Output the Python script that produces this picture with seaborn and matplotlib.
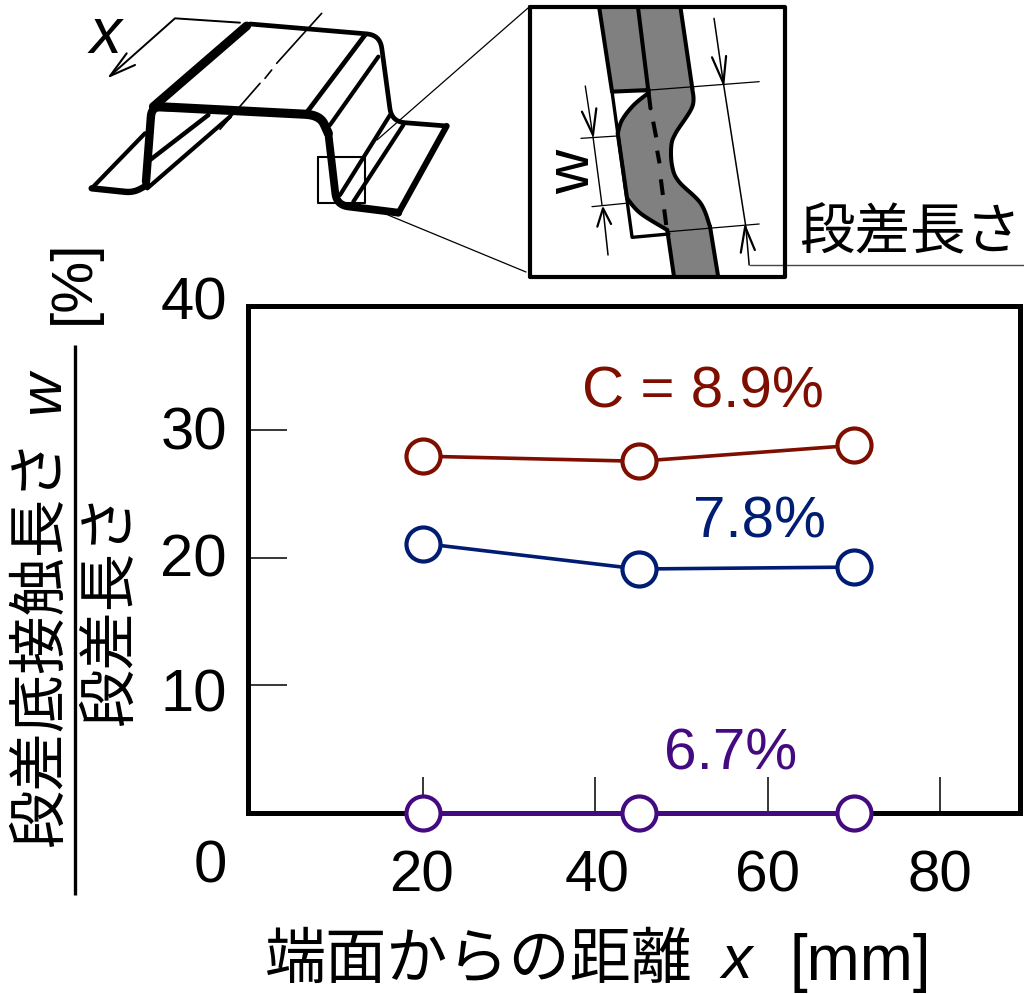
import numpy as np
import pandas as pd
import matplotlib
matplotlib.use("Agg")
import matplotlib.pyplot as plt
from matplotlib.patches import Polygon
import seaborn as sns

sns.set_theme(style="white")
FONT = ['Liberation Sans', 'Noto Sans CJK JP', 'DejaVu Sans']
plt.rcParams['font.family'] = FONT

# ---- data ----
distance = [20, 45, 70]
c_89 = [27.95, 27.55, 28.8]
c_78 = [21.1, 19.1, 19.25]
c_67 = [0.0, 0.0, 0.0]
series_names = ['C = 8.9%', '7.8%', '6.7%']
series_colors = ['#7d0e00', '#001c73', '#440a80']
x_ticks = [20, 40, 60, 80]
y_ticks = [10, 20, 30]
y_tick_labels = ['0', '10', '20', '30', '40']

W, H = 1024, 994
fig = plt.figure(figsize=(W / 100, H / 100), dpi=100, facecolor='white')
ax = fig.add_axes([248 / W, 1 - 812.5 / H, (1020 - 248) / W, (812.5 - 306) / H])

df = pd.DataFrame({
    'x': distance * 3,
    'y': c_89 + c_78 + c_67,
    's': np.repeat(series_names, 3),
})
for name, col, lw in zip(series_names, series_colors, [2.6, 2.6, 3.6]):
    sns.lineplot(data=df[df.s == name], x='x', y='y', ax=ax, color=col, lw=lw,
                 marker='o', markersize=24.5, markerfacecolor='white',
                 markeredgecolor=col, markeredgewidth=3.0, errorbar=None,
                 clip_on=False, zorder=5, legend=False)

ax.set_xlim(-0.35, 89.3)
ax.set_ylim(0, 39.73)
ax.set_xlabel('')
ax.set_ylabel('')
for s in ax.spines.values():
    s.set_linewidth(3.6)
    s.set_color('black')
ax.set_xticks(x_ticks)
ax.set_yticks(y_ticks)
ax.tick_params(axis='y', direction='in', length=28, width=1.1, color='black', labelleft=False, left=True)
ax.tick_params(axis='x', direction='in', length=26, width=1.1, color='black', labelbottom=False, bottom=True)

# ---- overlay in pixel coordinates for texts and the schematic ----
ov = fig.add_axes([0, 0, 1, 1], facecolor='none')
ov.set_xlim(0, W)
ov.set_ylim(H, 0)
ov.axis('off')

TS = 42
for lab, yy in zip(y_tick_labels, [867, 696, 561, 434, 304]):
    ov.text(227, yy, lab, ha='right', va='center', fontsize=TS + 1, color='black')
for t, xx in zip(x_ticks, [421, 597, 767, 940]):
    ov.text(xx, 876, str(t), ha='center', va='center', fontsize=TS, color='black')

ov.text(703, 392, series_names[0], ha='center', va='center', fontsize=TS, color=series_colors[0])
ov.text(760, 522, series_names[1], ha='center', va='center', fontsize=TS, color=series_colors[1])
ov.text(731, 754, series_names[2], ha='center', va='center', fontsize=TS, color=series_colors[2])

# axis titles
ov.text(265, 962, '端面からの距離', ha='left', va='center', fontsize=44, color='black')
ov.text(737, 963, 'x', ha='center', va='center', fontsize=44, style='italic', color='black')
ov.text(790, 963, '[mm]', ha='left', va='center', fontsize=46, color='black')
ov.text(42, 847, '段差底接触長さ', rotation=90, ha='center', va='bottom', fontsize=42, color='black')
ov.text(44, 392, 'w', rotation=90, ha='center', va='center', fontsize=43, style='italic', color='black')
ov.text(112, 726, '段差長さ', rotation=90, ha='center', va='bottom', fontsize=42, color='black')
ov.text(74, 282, '[%]', rotation=90, ha='center', va='center', fontsize=42, color='black')
ov.plot([75, 75], [345, 895], color='black', lw=2.4, solid_capstyle='butt')


def z1(pts):
    a = np.array(pts, float)
    return 70 + a[:, 0] / 3, a[:, 1] / 3


def z2(pts):
    a = np.array(pts, float)
    return 500 + a[:, 0] / 2.99, a[:, 1] / 3


def smooth(pts, n=12):
    p = np.array(pts, float)
    p = np.vstack([p[0], p, p[-1]])
    out = []
    for i in range(1, len(p) - 2):
        for t in np.linspace(0, 1, n, endpoint=False):
            out.append(0.5 * ((2 * p[i]) + (-p[i - 1] + p[i + 1]) * t
                              + (2 * p[i - 1] - 5 * p[i] + 4 * p[i + 1] - p[i + 2]) * t ** 2
                              + (-p[i - 1] + 3 * p[i] - 3 * p[i + 1] + p[i + 2]) * t ** 3))
    out.append(p[-2])
    return np.array(out)


def rounded(pts, r=35, n=10):
    """Polyline with its inner corners rounded by quadratic curves (illustration only)."""
    p = np.array(pts, float)
    out = [p[0]]
    for i in range(1, len(p) - 1):
        a, b, c = p[i - 1], p[i], p[i + 1]
        ra = min(r, np.linalg.norm(a - b) / 2)
        rc = min(r, np.linalg.norm(c - b) / 2)
        s = b + (a - b) / np.linalg.norm(a - b) * ra
        e = b + (c - b) / np.linalg.norm(c - b) * rc
        for t in np.linspace(0, 1, n):
            out.append((1 - t) ** 2 * s + 2 * t * (1 - t) * b + t ** 2 * e)
    out.append(p[-1])
    return np.array(out)


def line(fn, pts, lw, color='black', **kw):
    x, y = fn(pts)
    kw.setdefault('solid_capstyle', 'round')
    kw.setdefault('solid_joinstyle', 'round')
    ov.plot(x, y, color=color, lw=lw, **kw)


# ---- left schematic ----
line(z1, [(65, 565), (225, 400)], 3.0)
line(z1, [(240, 480), (415, 345)], 3.2)
line(z1, [(232, 565), (480, 350)], 3.0)
line(z1, [(810, 585), (960, 345)], 3.0)
line(z1, [(850, 605), (1000, 375)], 3.0)
line(z1, rounded([(65, 565), (190, 578), (232, 555)], 25), 4.6)
line(z1, rounded([(228, 545), (245, 320), (300, 322)], 30), 6.0)
line(z1, rounded([(265, 320), (750, 345), (775, 400)], 45), 6.6)
line(z1, rounded([(775, 400), (800, 615), (985, 638)], 35), 5.6)
line(z1, [(985, 640), (1130, 378)], 4.4)
line(z1, rounded([(1130, 378), (965, 365), (930, 105), (540, 72)], 40), 3.4)
line(z1, [(250, 320), (530, 78)], 6.4)
line(z1, [(712, 335), (885, 105)], 3.4)
line(z1, [(780, 375), (925, 170)], 3.0)
line(z1, [(755, 40), (620, 190)], 1.2)
line(z1, [(605, 210), (585, 235)], 1.2)
line(z1, [(570, 250), (450, 388)], 1.2)
line(z1, [(510, 68), (315, 55), (120, 228)], 1.4)
line(z1, [(195, 195), (120, 228), (170, 160)], 1.5)
line(z1, [(745, 470), (885, 470), (885, 610), (745, 610), (745, 470)], 1.5)
ov.plot([377, 528], [140, 8], color='black', lw=0.9)
ov.plot([388, 526], [215, 272], color='black', lw=0.9)
ov.text(106, 36, 'x', ha='center', va='center', fontsize=46, style='italic', color='black')

# ---- inset ----
body_left = smooth([(445, 278), (400, 315), (365, 360), (352, 400)])
body_left2 = smooth([(380, 595), (420, 640), (500, 690)])
body_right1 = smooth([(628, 680), (600, 610), (535, 545), (515, 500), (512, 440), (525, 400), (575, 320), (575, 265)])
outline = np.vstack([[(297, 25), (335, 275)], body_left, body_left2, [(520, 828), (652, 828)], body_right1, [(540, 25)]])
x, y = z2(outline)
ov.add_patch(Polygon(np.c_[x, y], closed=True, facecolor='#808080', edgecolor='none'))
line(z2, [(297, 25), (335, 275), (445, 270)], 2.9)
line(z2, [(335, 275), (395, 712), (505, 702)], 2.4)
line(z2, body_left, 2.9)
line(z2, [(352, 400), (380, 595)], 2.9)
line(z2, body_left2, 2.9)
line(z2, [(500, 690), (520, 828)], 2.9)
line(z2, [(652, 828), (628, 680)], 2.9)
line(z2, body_right1, 2.9)
line(z2, [(575, 265), (540, 25)], 2.9)
line(z2, [(413, 25), (450, 325)], 2.9)
for seg in [[(458, 365), (467, 412)], [(470, 452), (477, 490)], [(481, 538), (487, 585)], [(491, 628), (497, 675)]]:
    line(z2, seg, 2.9, solid_capstyle='butt')
line(z2, [(640, 55), (668, 250), (735, 680), (745, 795)], 1.1)
line(z2, [(634, 172), (668, 250), (676, 168)], 1.6)
line(z2, [(720, 758), (733, 680), (762, 750)], 1.6)
line(z2, [(450, 270), (775, 245)], 0.9)
line(z2, [(505, 695), (775, 672)], 0.9)
line(z2, [(255, 258), (278, 410), (305, 615)], 1.0)
line(z2, [(245, 335), (278, 405), (288, 325)], 1.6)
line(z2, [(242, 415), (350, 408)], 0.9)
line(z2, [(275, 620), (375, 610)], 0.9)
line(z2, [(323, 765), (308, 625)], 1.1)
line(z2, [(291, 680), (308, 625), (332, 672)], 1.6)
ov.plot([750, 1024], [265, 265], color='#444444', lw=1.0)
ov.plot([529.5, 785, 785, 529.5, 529.5], [6.5, 6.5, 277, 277, 6.5], color='black', lw=3.0, solid_joinstyle='round')
ov.text(574, 172, 'w', rotation=90, ha='center', va='center', fontsize=44, color='black')
ov.text(910, 235, '段差長さ', ha='center', va='center', fontsize=40, color='black')

fig.savefig('out.png', dpi=100, facecolor='white')
